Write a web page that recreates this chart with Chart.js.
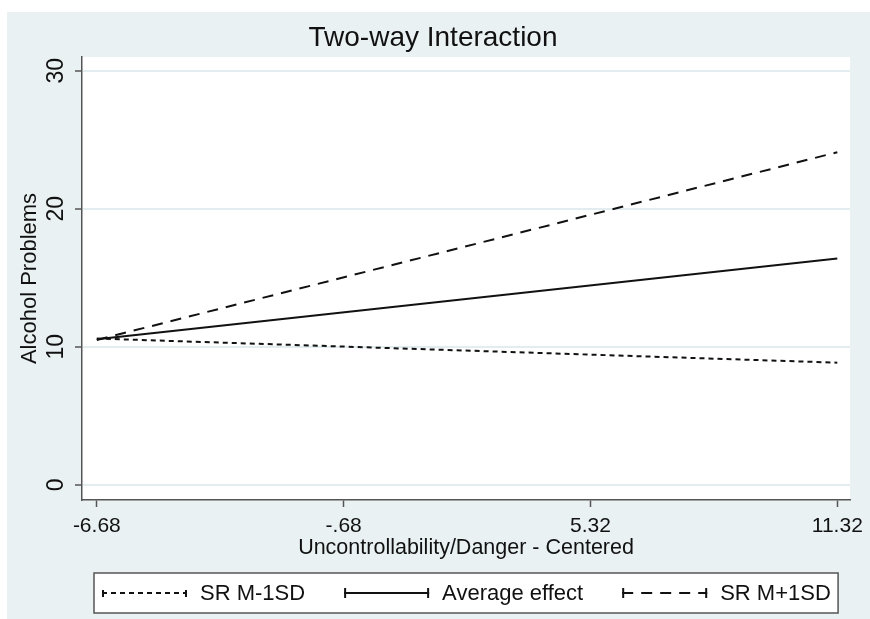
<!DOCTYPE html>
<html>
<head>
<meta charset="utf-8">
<script src="https://cdn.jsdelivr.net/npm/chart.js@4.4.1/dist/chart.umd.min.js"></script>
<style>
  html, body { margin: 0; padding: 0; background: #fff; }
  #panel { position: absolute; left: 7px; top: 12px; width: 863px; height: 607px; background: #e9f1f3; }
</style>
</head>
<body>
<div id="panel"><canvas id="c"></canvas></div>
<script>
var xTicks = [-6.68, -0.68, 5.32, 11.32];
var xTickLabels = ['-6.68', '-.68', '5.32', '11.32'];
var yTicks = [0, 10, 20, 30];
var seriesNames = ['SR M-1SD', 'Average effect', 'SR M+1SD'];
var xEnds = [-6.68, 11.32];
var lowSR = [10.6, 8.85];
var avgEffect = [10.55, 16.4];
var highSR = [10.5, 24.1];

var font = '"Liberation Sans", Arial, sans-serif';
var ink = '#111';
var axisGray = '#555';
Chart.defaults.font.family = font;

function pts(ys) {
  return xEnds.map(function (x, i) { return {x: x, y: ys[i]}; });
}

// white plot region
var plotBg = {
  id: 'plotBg',
  beforeDraw: function (chart) {
    var a = chart.chartArea, ctx = chart.ctx;
    ctx.save();
    ctx.fillStyle = '#fff';
    ctx.fillRect(a.left, a.top, a.right - a.left, a.bottom - a.top);
    ctx.restore();
  }
};

// boxed legend below the axis, Stata style
var boxLegend = {
  id: 'boxLegend',
  afterDraw: function (chart) {
    var ctx = chart.ctx, a = chart.chartArea;
    var left = a.left + 12, right = a.right - 12, top = a.bottom + 73, h = 40;
    var midY = top + h / 2;
    var capUp = [3, 5, 5], capDown = [4, 5, 5];
    ctx.save();
    ctx.fillStyle = '#fff';
    ctx.fillRect(left, top, right - left, h);
    ctx.strokeStyle = axisGray;
    ctx.lineWidth = 1.5;
    ctx.strokeRect(left, top, right - left, h);
    ctx.font = '22px ' + font;
    ctx.textBaseline = 'middle';
    var x = left + 8;
    chart.data.datasets.forEach(function (ds, i) {
      ctx.strokeStyle = ds.borderColor;
      ctx.lineWidth = 2;
      ctx.setLineDash(ds.borderDash || []);
      ctx.beginPath();
      ctx.moveTo(x, midY);
      ctx.lineTo(x + 85, midY);
      ctx.stroke();
      ctx.setLineDash([]);
      ctx.beginPath();
      ctx.moveTo(x + 1, midY - capUp[i]); ctx.lineTo(x + 1, midY + capDown[i]);
      ctx.moveTo(x + 84, midY - capUp[i]); ctx.lineTo(x + 84, midY + capDown[i]);
      ctx.stroke();
      ctx.fillStyle = ink;
      ctx.fillText(ds.label, x + 98, midY + 1);
      x += 98 + ctx.measureText(ds.label).width + 39;
    });
    ctx.restore();
  }
};

new Chart(document.getElementById('c'), {
  type: 'line',
  data: {
    datasets: [
      {label: seriesNames[0], data: pts(lowSR), borderColor: ink, borderWidth: 2, borderDash: [5, 4]},
      {label: seriesNames[1], data: pts(avgEffect), borderColor: ink, borderWidth: 2},
      {label: seriesNames[2], data: pts(highSR), borderColor: ink, borderWidth: 2, borderDash: [11, 8]}
    ]
  },
  options: {
    animation: false,
    responsive: true,
    maintainAspectRatio: false,
    layout: {padding: {left: 0, right: 11, top: 0, bottom: 54}},
    elements: {point: {radius: 0}, line: {tension: 0, borderCapStyle: 'butt'}},
    plugins: {
      legend: {display: false},
      tooltip: {enabled: false},
      title: {
        display: true,
        text: 'Two-way Interaction',
        color: ink,
        font: {size: 28, weight: 'normal'},
        padding: {top: 9, bottom: 2.4}
      }
    },
    scales: {
      x: {
        type: 'linear',
        min: -7.04,
        max: 11.63,
        afterBuildTicks: function (s) { s.ticks = xTicks.map(function (v) { return {value: v}; }); },
        afterFit: function (s) { s.height = 65; },
        grid: {drawOnChartArea: false, tickLength: 7, tickColor: axisGray, tickWidth: 1.5},
        border: {color: axisGray, width: 1.5},
        ticks: {
          color: ink, font: {size: 21}, padding: 7, maxRotation: 0, autoSkip: false,
          callback: function (v, i) { return xTickLabels[i]; }
        },
        title: {
          display: true, text: 'Uncontrollability/Danger - Centered', color: ink,
          font: {size: 21.5}, padding: {top: 0, bottom: 4}
        }
      },
      y: {
        min: -1.1,
        max: 31.0,
        afterBuildTicks: function (s) { s.ticks = yTicks.map(function (v) { return {value: v}; }); },
        afterFit: function (s) { s.width = 75; },
        grid: {color: '#e3edf0', lineWidth: 2, tickLength: 7, tickColor: axisGray, tickWidth: 1.5},
        border: {color: axisGray, width: 1.5},
        ticks: {color: ink, font: {size: 23}, padding: 6, minRotation: 90, maxRotation: 90, crossAlign: 'center'},
        title: {
          display: true, text: 'Alcohol Problems', color: ink,
          font: {size: 22}, padding: {top: 10, bottom: 0}
        }
      }
    }
  },
  plugins: [plotBg, boxLegend]
});
</script>
</body>
</html>
